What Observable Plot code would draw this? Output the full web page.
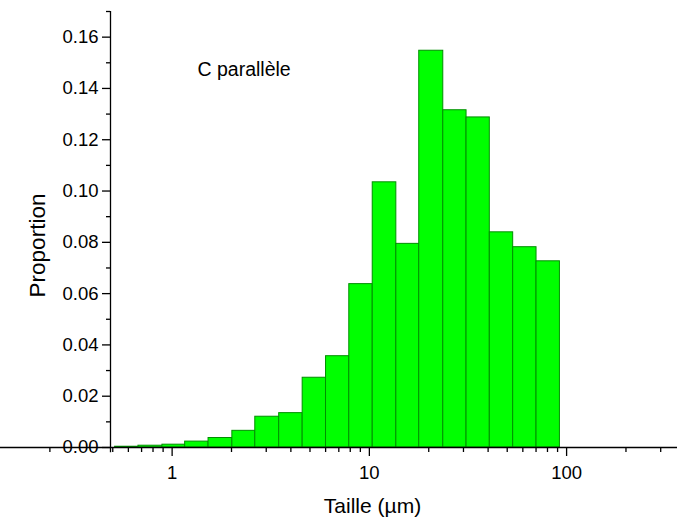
<!DOCTYPE html>
<html>
<head>
<meta charset="utf-8">
<script src="https://cdn.jsdelivr.net/npm/d3@7"></script>
<script src="https://cdn.jsdelivr.net/npm/@observablehq/plot@0.6"></script>
<style>
  body { margin: 0; background: #fff; }
  #chart svg { display: block; }
</style>
</head>
<body>
<div id="chart"></div>
<script>
// Bin edges (µm) (log-spaced bins)
const binEdges = [0.514, 0.675, 0.893, 1.164, 1.53, 2.02, 2.64, 3.49, 4.59, 6.03, 7.91, 10.4, 13.7, 17.9, 23.7, 31.1, 40.8, 53.6, 70.4, 92.5];
// Proportion in each bin
const proportions = [0.0003, 0.0007, 0.0011, 0.0023, 0.0037, 0.0065, 0.0120, 0.0134, 0.0272, 0.0356, 0.0637, 0.1034, 0.0794, 0.1547, 0.1315, 0.1287, 0.0839, 0.0781, 0.0726];
// Axis ticks
const xMajorTicks = [1, 10, 100];
const xMinorTicks = [0.24, 0.5, 0.6, 0.7, 0.8, 0.9, 2, 3, 4, 5, 6, 7, 8, 9, 20, 30, 40, 50, 60, 70, 80, 90, 200, 300];
const yMajorTicks = [0, 0.02, 0.04, 0.06, 0.08, 0.10, 0.12, 0.14, 0.16];
const yMinorTicks = [0.01, 0.03, 0.05, 0.07, 0.09, 0.11, 0.13, 0.15, 0.17];
const title = "C parallèle";
const xLabel = "Taille (µm)";
const yLabel = "Proportion";

const bins = proportions.map((p, i) => ({x1: binEdges[i], x2: binEdges[i + 1], p}));

const chart = Plot.plot({
  width: 677,
  height: 521,
  marginLeft: 110,
  marginRight: 0,
  marginTop: 11,
  marginBottom: 74,
  style: {fontFamily: "'Liberation Sans', Arial, sans-serif", fontSize: "18.5px", background: "#fff", color: "#000"},
  x: {type: "log", domain: [0.487, 365]},
  y: {domain: [0, 0.17]},
  marks: [
    Plot.rect(bins, {x1: "x1", x2: "x2", y1: 0, y2: "p", fill: "#00ff00", stroke: "#008f00", strokeWidth: 1}),
    Plot.ruleY([0], {x1: 0.134, x2: 365, stroke: "#000", strokeWidth: 1.3}),
    Plot.ruleX([0.487], {y1: -0.002, y2: 0.17, stroke: "#000", strokeWidth: 1.3}),
    Plot.axisY({ticks: yMajorTicks, tickSize: 8, tickPadding: 4, tickFormat: d3.format(".2f"), label: null, strokeWidth: 1.3, fontSize: 18.5}),
    Plot.axisY({ticks: yMinorTicks, tickSize: 4, tickFormat: () => "", label: null, strokeWidth: 1.3}),
    Plot.axisX({ticks: xMajorTicks, tickSize: 9, tickPadding: 9, tickFormat: d => String(d), label: null, strokeWidth: 1.3, fontSize: 18.5}),
    Plot.axisX({ticks: xMinorTicks, tickSize: 5, tickFormat: () => "", label: null, strokeWidth: 1.3}),
    Plot.text([yLabel], {frameAnchor: "left", textAnchor: "middle", lineAnchor: "middle", rotate: -90, dx: -72.5, dy: 16, fontSize: 22.5}),
    Plot.text([xLabel], {frameAnchor: "bottom", textAnchor: "middle", lineAnchor: "middle", dx: -21.5, dy: 59, fontSize: 21}),
    Plot.text([title], {frameAnchor: "top-left", textAnchor: "start", lineAnchor: "middle", dx: 87, dy: 58, fontSize: 19.5})
  ]
});
document.getElementById("chart").appendChild(chart);
</script>
</body>
</html>
